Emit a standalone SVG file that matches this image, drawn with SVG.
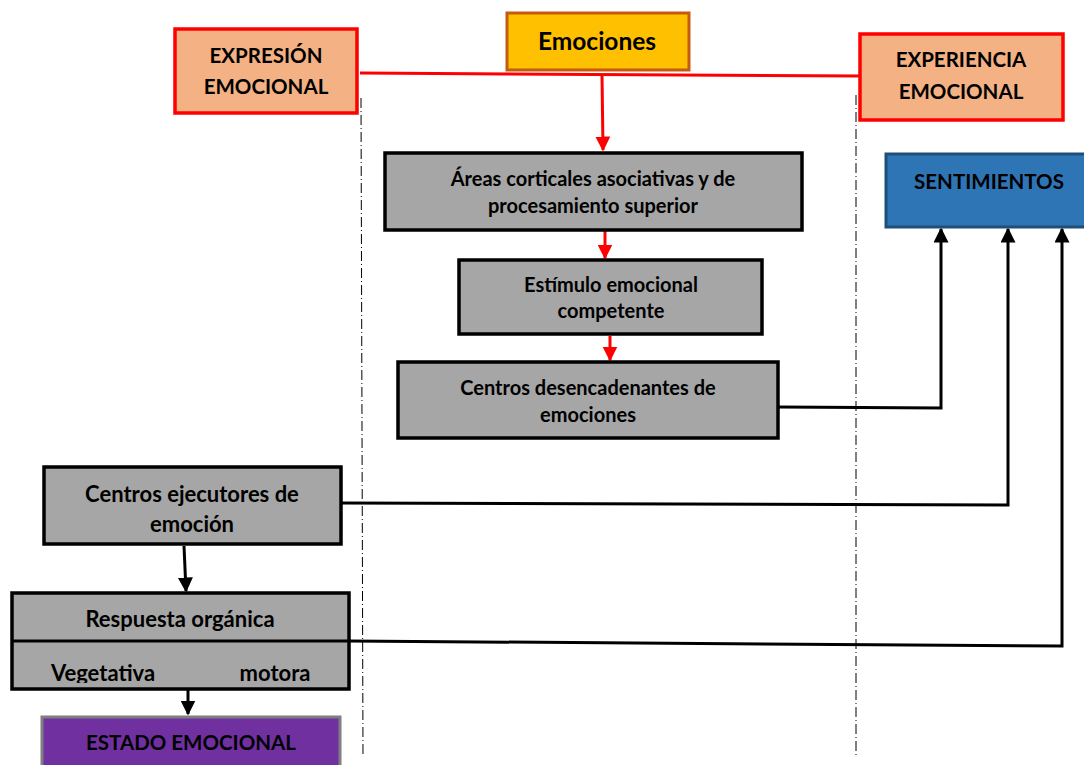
<svg xmlns="http://www.w3.org/2000/svg" width="1084" height="765" viewBox="0 0 1084 765">
<defs>
<style>
text{font-family:Lato,"Liberation Sans",sans-serif;font-weight:bold;fill:#000;text-anchor:middle}
.t{font-size:20px}
.h{font-size:20.5px}
.l{font-size:22px}
.big{font-size:24.5px}
.red{fill:#F4B183;stroke:#FF0000;stroke-width:3.5}
.gray{fill:#A6A6A6;stroke:#000;stroke-width:3.5}
.rc{stroke:#FF0000;stroke-width:3;fill:none}
.bc{stroke:#000;stroke-width:3;fill:none}
.dd{stroke:#000;stroke-width:1;stroke-dasharray:10 3 1 3;fill:none}
</style>
<marker id="ar" viewBox="0 0 10 10" refX="9" refY="5" markerWidth="5" markerHeight="5" orient="auto"><path d="M0,0L10,5L0,10z" fill="#FF0000"/></marker>
<marker id="ab" viewBox="0 0 10 10" refX="9" refY="5" markerWidth="5" markerHeight="5" orient="auto"><path d="M0,0L10,5L0,10z" fill="#000"/></marker>
<clipPath id="rclip"><rect x="11" y="592" width="338" height="91"/></clipPath>
</defs>
<rect width="1084" height="765" fill="#fff"/>
<g id="guides">
<line class="dd" x1="361" y1="98" x2="363" y2="755"/>
<line class="dd" x1="856" y1="95" x2="856" y2="755"/>
</g>
<g id="connectors">
<polyline class="rc" points="360,73 862,76"/>
<line class="rc" x1="602" y1="75" x2="603" y2="150" marker-end="url(#ar)"/>
<line class="rc" x1="605" y1="231" x2="605" y2="258" marker-end="url(#ar)"/>
<line class="rc" x1="610" y1="336" x2="610" y2="360" marker-end="url(#ar)"/>
<polyline class="bc" points="779,407 941,408 941,229" marker-end="url(#ab)"/>
<polyline class="bc" points="341,503 1008,505 1008,229" marker-end="url(#ab)"/>
<polyline class="bc" points="349,641 1062,646 1062,229" marker-end="url(#ab)"/>
<line class="bc" x1="184" y1="546" x2="186" y2="591" marker-end="url(#ab)"/>
<line class="bc" x1="188" y1="688" x2="188" y2="714" marker-end="url(#ab)"/>
</g>
<g id="expresion">
<rect class="red" x="175" y="29" width="182" height="84"/>
<text class="h" x="266" y="63">EXPRESIÓN</text>
<text class="h" x="266" y="94">EMOCIONAL</text>
</g>
<g id="emociones">
<rect x="507" y="13" width="182" height="57" fill="#FFC000" stroke="#C55A11" stroke-width="3"/>
<text class="big" x="597" y="50">Emociones</text>
</g>
<g id="experiencia">
<rect class="red" x="860" y="34" width="203" height="86"/>
<text class="h" x="961" y="67">EXPERIENCIA</text>
<text class="h" x="961" y="99">EMOCIONAL</text>
</g>
<g id="sentimientos">
<rect x="886" y="154" width="200" height="73" fill="#2E75B6" stroke="#1F4E79" stroke-width="3"/>
<text class="h" x="989" y="189">SENTIMIENTOS</text>
</g>
<g id="areas">
<rect class="gray" x="385" y="153" width="417" height="77"/>
<text class="t" x="593" y="186">Áreas corticales asociativas y de</text>
<text class="t" x="593" y="213">procesamiento superior</text>
</g>
<g id="estimulo">
<rect class="gray" x="459" y="260" width="303" height="74"/>
<text class="t" x="611" y="292">Estímulo emocional</text>
<text class="t" x="611" y="318">competente</text>
</g>
<g id="desencadenantes">
<rect class="gray" x="398" y="362" width="380" height="76"/>
<text class="t" x="588" y="395">Centros desencadenantes de</text>
<text class="t" x="588" y="422">emociones</text>
</g>
<g id="ejecutores">
<rect class="gray" x="44" y="467" width="297" height="77"/>
<text class="l" x="192" y="502">Centros ejecutores de</text>
<text class="l" x="192" y="532">emoción</text>
</g>
<g id="respuesta">
<rect x="12" y="593" width="337" height="96" fill="#A6A6A6"/>
<text class="l" x="180" y="627">Respuesta orgánica</text>
<g clip-path="url(#rclip)">
<text class="l" x="103" y="681">Vegetativa</text>
<text class="l" x="275" y="681">motora</text>
</g>
<line x1="12" y1="641" x2="349" y2="641" stroke="#000" stroke-width="3"/>
<rect x="12" y="593" width="337" height="96" fill="none" stroke="#000" stroke-width="3.5"/>
</g>
<g id="estado">
<rect x="42" y="717" width="298" height="52" fill="#7030A0" stroke="#7F7F7F" stroke-width="3"/>
<text class="h" x="191" y="750">ESTADO EMOCIONAL</text>
</g>
</svg>
